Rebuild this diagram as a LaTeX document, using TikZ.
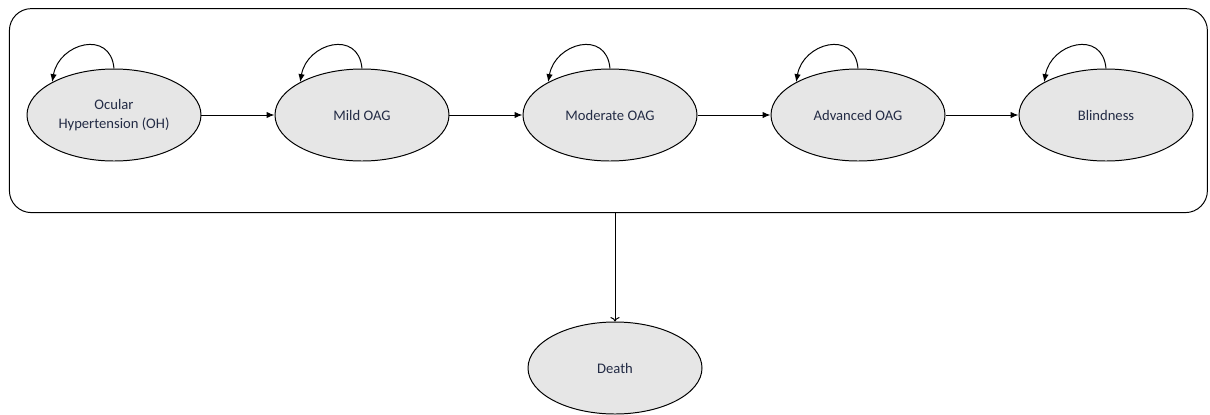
\documentclass[tikz,border=0pt]{standalone}
\usepackage{fontspec}
\setmainfont{Carlito}
\usetikzlibrary{positioning,shapes.geometric,arrows.meta}
\definecolor{statefill}{HTML}{E6E6E6}
\definecolor{statetext}{HTML}{232B45}

\begin{document}
\begin{tikzpicture}
[every node/.style={font=\fontsize{10.4}{14}\selectfont,text=statetext},
 state/.style={ellipse,draw=black,fill=statefill,line width=0.7pt,minimum width=4.35cm,minimum height=2.3cm,inner sep=0mm,align=center},
 frame/.style={rectangle,draw=black,line width=0.7pt,rounded corners=5.5mm,minimum width=29.95cm,minimum height=5.1cm},
 move/.style={-{Latex[length=2mm,width=1.6mm]}},
 selfloop/.style={-{Latex[length=2mm,width=1.6mm]},out=95,in=80,looseness=1.6},
 line width=0.7pt]
\useasboundingbox (-2.85,-7.475) rectangle (27.4,2.875);
\node[state] (oh)                                        {Ocular\\Hypertension (OH)};
\node[state] (mild)  [on grid,right=6.2cm of oh]         {Mild OAG};
\node[state] (mod)   [on grid,right=6.2cm of mild]       {Moderate OAG};
\node[state] (adv)   [on grid,right=6.2cm of mod]        {Advanced OAG};
\node[state] (blind) [on grid,right=6.2cm of adv]        {Blindness};
\node[frame] (alive) [on grid,above right=0.11cm and 12.36cm of oh] {};
\node[state] (death) [on grid,below right=6.325cm and 0.125cm of mod] {Death};
\path[move] (oh)   edge (mild);
\path[move] (mild) edge (mod);
\path[move] (mod)  edge (adv);
\path[move] (adv)  edge (blind);
\path[selfloop] (oh.north)    edge (oh.152);
\path[selfloop] (mild.north)  edge (mild.152);
\path[selfloop] (mod.north)   edge (mod.152);
\path[selfloop] (adv.north)   edge (adv.152);
\path[selfloop] (blind.north) edge (blind.152);
\path[->] (death.north |- alive.south) edge (death);
\end{tikzpicture}
\end{document}
